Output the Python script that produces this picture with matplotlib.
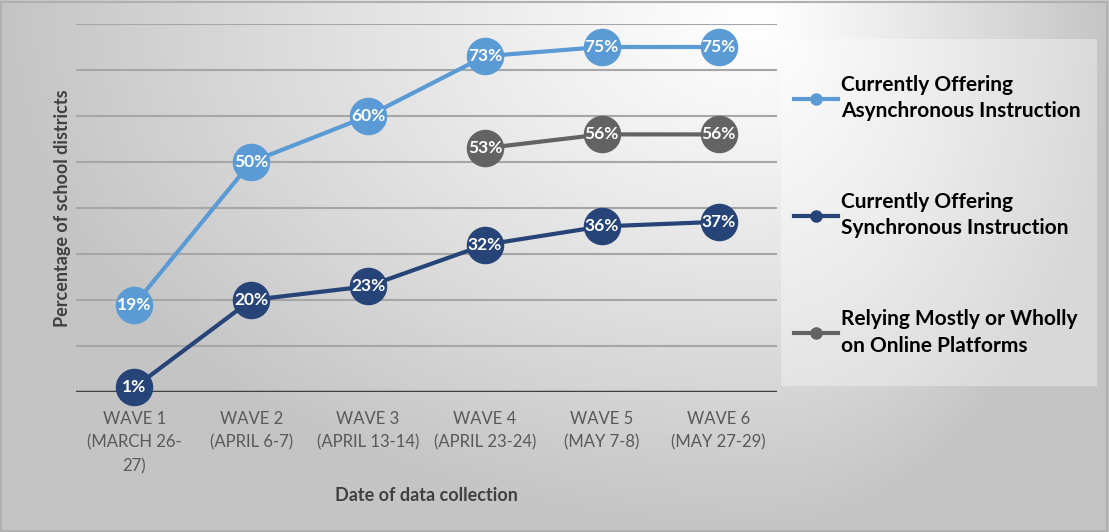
import numpy as np
import matplotlib.pyplot as plt
from matplotlib.patches import Rectangle
from matplotlib.lines import Line2D

plt.rcParams['font.family'] = ['Lato', 'DejaVu Sans']

waves = ['WAVE 1\n(MARCH 26-\n27)', 'WAVE 2\n(APRIL 6-7)', 'WAVE 3\n(APRIL 13-14)',
         'WAVE 4\n(APRIL 23-24)', 'WAVE 5\n(MAY 7-8)', 'WAVE 6\n(MAY 27-29)']
async_pct = [19, 50, 60, 73, 75, 75]
sync_pct = [1, 20, 23, 32, 36, 37]
online_pct = [np.nan, np.nan, np.nan, 53, 56, 56]

series = [
    ('Currently Offering\nAsynchronous Instruction', async_pct, '#5b9bd5'),
    ('Currently Offering\nSynchronous Instruction', sync_pct, '#264478'),
    ('Relying Mostly or Wholly\non Online Platforms', online_pct, '#636363'),
]

W, H = 1109, 532
fig = plt.figure(figsize=(W / 100, H / 100), dpi=100)

# background gradient: light near the top right, grey at every corner
bg = fig.add_axes([0, 0, 1, 1], zorder=-10)
yy, xx = np.mgrid[0:H, 0:W].astype(float)
cx, cy = 760, 20
dx = np.where(xx < cx, (cx - xx) / cx, (xx - cx) / (W - cx))
dy = (yy - cy) / (H - cy)
d = np.clip(np.sqrt(dx ** 2 + dy ** 2), 0, 1)
g = 1 - 0.23 * d ** 1.1
bg.imshow(np.dstack([g, g, g]), aspect='auto', extent=[0, 1, 0, 1], origin='upper')
bg.add_patch(Rectangle((0.001, 0.002), 0.997, 0.994, transform=bg.transAxes,
                       fill=False, edgecolor='#b0b0b0', lw=1.5))
bg.set_axis_off()

ax = fig.add_axes([76 / W, 1 - 392 / H, (777 - 76) / W, (392 - 24) / H])
ax.patch.set_alpha(0)
x = np.arange(len(waves))

for label, vals, color in series:
    ax.plot(x, vals, color=color, lw=3, marker='o', ms=26, zorder=3, clip_on=False)
    for xi, v in zip(x, vals):
        if np.isnan(v):
            continue
        ax.text(xi, v, f'{v:.0f}%', ha='center', va='center', color='white',
                fontsize=12.5, fontweight='bold', zorder=4)

ax.set_xlim(-0.5, 5.5)
ax.set_ylim(0, 80)
ax.set_yticks(np.arange(0, 81, 10))
ax.set_yticklabels([])
ax.tick_params(axis='y', length=0)
ax.grid(axis='y', color='#a6a6a6', lw=1.5)
ax.set_axisbelow(True)
ax.axhline(0, color='#404040', lw=2.5, zorder=2)
for s in ax.spines.values():
    s.set_visible(False)

ax.set_xticks(x)
ax.set_xticklabels(waves, fontsize=12, color='#595959', linespacing=1.55)
ax.tick_params(axis='x', length=0, pad=14)
ax.set_xlabel('Date of data collection', fontsize=13, fontweight='bold',
              color='#404040', labelpad=9)
ax.set_ylabel('Percentage of school districts', fontsize=13, fontweight='bold',
              color='#404040', labelpad=0)

# legend box
fig.patches.append(Rectangle((781 / W, 1 - 386 / H), (1097 - 781) / W, (386 - 39) / H,
                             transform=fig.transFigure, facecolor='white', alpha=0.35,
                             edgecolor='none', zorder=0))
handles = [Line2D([], [], color=c, lw=3, marker='o', ms=8) for _, _, c in series]
leg = fig.legend(handles, [s[0] for s in series], loc='upper left',
                 bbox_to_anchor=(775 / W, 1 - 56 / H), frameon=False,
                 prop={'size': 15, 'weight': 'bold'}, handlelength=2.1,
                 handletextpad=0.15, labelspacing=3.4)
for t in leg.get_texts():
    t.set_linespacing(1.4)

fig.savefig('out.png', dpi=100)
